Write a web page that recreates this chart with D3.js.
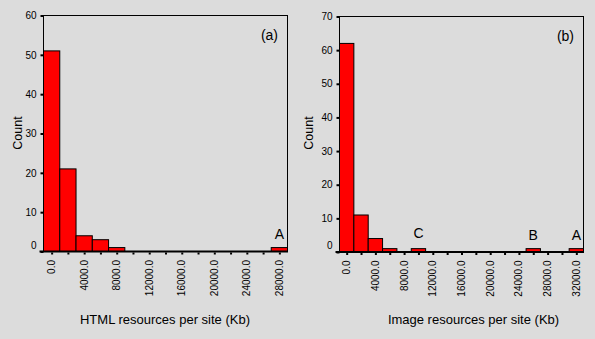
<!DOCTYPE html>
<html>
<head>
<meta charset="utf-8">
<script src="https://cdn.jsdelivr.net/npm/d3@7"></script>
<style>
  html, body { margin: 0; padding: 0; background: #dcdcdc; }
  svg { display: block; }
  text { font-family: "Liberation Sans", Arial, sans-serif; fill: #000; }
</style>
</head>
<body>
<svg id="chart" width="595" height="339"></svg>
<script>
// ---- Data ----
const htmlBins = [0, 2000, 4000, 6000, 8000, 10000, 12000, 14000, 16000, 18000, 20000, 22000, 24000, 26000, 28000];
const htmlCounts = [51, 21, 4, 3, 1, 0, 0, 0, 0, 0, 0, 0, 0, 0, 1];
const htmlTickLabels = ["0.0", "4000.0", "8000.0", "12000.0", "16000.0", "20000.0", "24000.0", "28000.0"];
const htmlYTicks = [0, 10, 20, 30, 40, 50, 60];
const htmlMarks = [{ bin: 28000, label: "A" }];

const imageBins = [0, 2000, 4000, 6000, 8000, 10000, 12000, 14000, 16000, 18000, 20000, 22000, 24000, 26000, 28000, 30000, 32000];
const imageCounts = [62, 11, 4, 1, 0, 1, 0, 0, 0, 0, 0, 0, 0, 1, 0, 0, 1];
const imageTickLabels = ["0.0", "4000.0", "8000.0", "12000.0", "16000.0", "20000.0", "24000.0", "28000.0", "32000.0"];
const imageYTicks = [0, 10, 20, 30, 40, 50, 60, 70];
const imageMarks = [{ bin: 10000, label: "C" }, { bin: 26000, label: "B" }, { bin: 32000, label: "A" }];

const binWidth = 2000;

const panels = [
  { bins: htmlBins, counts: htmlCounts, tickLabels: htmlTickLabels, yTicks: htmlYTicks, marks: htmlMarks,
    tag: "(a)", xTitle: "HTML resources per site (Kb)",
    left: 43.5, right: 287.5, top: 15.5, bottom: 251.5, countX: 18, xTitleX: 165 },
  { bins: imageBins, counts: imageCounts, tickLabels: imageTickLabels, yTicks: imageYTicks, marks: imageMarks,
    tag: "(b)", xTitle: "Image resources per site (Kb)",
    left: 339.5, right: 583.5, top: 16.5, bottom: 252, countX: 309, xTitleX: 473.5 }
];

const svg = d3.select("#chart");

panels.forEach(p => {
  const g = svg.append("g");
  const xMin = p.bins[0] - binWidth / 2;
  const xMax = p.bins[p.bins.length - 1] + binWidth / 2;
  const x = d3.scaleLinear().domain([xMin, xMax]).range([p.left, p.right]);
  const yMax = p.yTicks[p.yTicks.length - 1];
  const y = d3.scaleLinear().domain([0, yMax]).range([p.bottom, p.top]);

  // frame
  g.append("rect")
    .attr("x", p.left).attr("y", p.top)
    .attr("width", p.right - p.left).attr("height", p.bottom - p.top)
    .attr("fill", "none").attr("stroke", "#000").attr("stroke-width", 1);

  // bars
  const data = p.bins.map((b, i) => ({ bin: b, count: p.counts[i] })).filter(d => d.count > 0);
  g.selectAll("rect.bar").data(data).enter().append("rect")
    .attr("class", "bar")
    .attr("x", d => x(d.bin - binWidth / 2))
    .attr("width", d => x(d.bin + binWidth / 2) - x(d.bin - binWidth / 2))
    .attr("y", d => y(d.count))
    .attr("height", d => y(0) - y(d.count))
    .attr("fill", "#ff0000").attr("stroke", "#000").attr("stroke-width", 1);

  // bottom axis line (thicker)
  g.append("line")
    .attr("x1", p.left - 4).attr("x2", p.right + 0.5)
    .attr("y1", p.bottom).attr("y2", p.bottom)
    .attr("stroke", "#000").attr("stroke-width", 2);

  // y axis
  const yAxis = d3.axisLeft(y).tickValues(p.yTicks).tickSize(3).tickPadding(4).tickFormat(d3.format("d"));
  const ya = g.append("g").attr("transform", `translate(${p.left},0)`).call(yAxis);
  ya.select(".domain").remove();
  ya.selectAll(".tick line").attr("stroke", "#000").attr("stroke-width", 2);
  ya.selectAll(".tick text")
    .style("font-size", "10px")
    .attr("dy", d => d === 0 ? "-0.35em" : "0.32em");

  // x axis ticks (small squares at each bin centre)
  const xAxis = d3.axisBottom(x).tickValues(p.bins).tickSize(0).tickFormat("");
  const xa = g.append("g").attr("transform", `translate(0,${p.bottom})`).call(xAxis);
  xa.select(".domain").remove();
  xa.selectAll(".tick").append("rect")
    .attr("x", -1).attr("y", 1).attr("width", 2).attr("height", 2).attr("fill", "#000");

  // x tick labels, rotated
  const labelVals = p.tickLabels.map(t => parseFloat(t));
  g.selectAll("text.xl").data(p.tickLabels).enter().append("text")
    .attr("class", "xl")
    .attr("transform", (t, i) => `translate(${x(labelVals[i])},${p.bottom + 8.5}) rotate(-90)`)
    .attr("text-anchor", "end")
    .attr("dy", "0.35em")
    .style("font-size", "10px")
    .text(t => t);

  // panel tag
  g.append("text")
    .attr("x", p.right - 9.5).attr("y", p.top + 24)
    .attr("text-anchor", "end")
    .style("font-size", "14px")
    .text(p.tag);

  // outlier marks
  g.selectAll("text.mark").data(p.marks).enter().append("text")
    .attr("class", "mark")
    .attr("x", d => x(d.bin))
    .attr("y", d => y(p.counts[p.bins.indexOf(d.bin)]) - (d.label === "C" ? 11 : 9))
    .attr("text-anchor", "middle")
    .style("font-size", "14px")
    .text(d => d.label);

  // axis titles
  g.append("text")
    .attr("transform", `translate(${p.countX},133) rotate(-90)`)
    .attr("text-anchor", "middle")
    .attr("dy", "0.35em")
    .style("font-size", "12.5px")
    .text("Count");

  g.append("text")
    .attr("x", p.xTitleX).attr("y", 324)
    .attr("text-anchor", "middle")
    .style("font-size", "13px")
    .text(p.xTitle);
});
</script>
</body>
</html>
